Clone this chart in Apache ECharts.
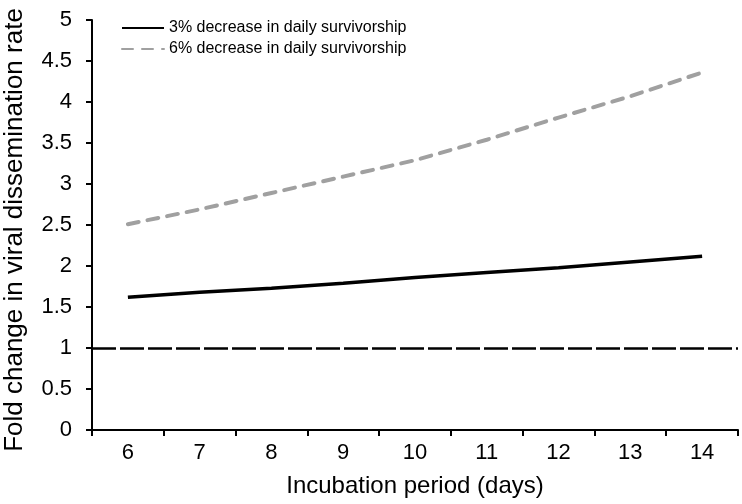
<!DOCTYPE html>
<html>
<head>
<meta charset="utf-8">
<script src="https://cdn.jsdelivr.net/npm/echarts@6/dist/echarts.min.js"></script>
<style>html,body{margin:0;padding:0;background:#fff;}#c{width:742px;height:504px;}</style>
</head>
<body>
<div id="c"></div>
<script>
const days = ['6','7','8','9','10','11','12','13','14'];
const dec3 = [1.62, 1.68, 1.73, 1.79, 1.86, 1.92, 1.98, 2.05, 2.12];
const dec6 = [2.51, 2.69, 2.89, 3.09, 3.29, 3.54, 3.81, 4.07, 4.36];
const yTicks = [0, 0.5, 1, 1.5, 2, 2.5, 3, 3.5, 4, 4.5, 5];
const baseline = 1;
const names = ['3% decrease in daily survivorship', '6% decrease in daily survivorship'];

const FONT = 'Liberation Sans, Arial, sans-serif';
const chart = echarts.init(document.getElementById('c'), null, {renderer: 'canvas'});
chart.setOption({
  animation: false,
  backgroundColor: '#fff',
  grid: {left: 92, right: 4, top: 20, bottom: 74, containLabel: false, outerBoundsMode: 'none'},
  legend: {
    left: 121, top: 20, orient: 'vertical', padding: 0,
    itemWidth: 42, itemHeight: 14, itemGap: 5,
    itemStyle: {opacity: 0},
    textStyle: {fontFamily: FONT, fontSize: 16, color: '#000'},
    data: names
  },
  xAxis: {
    type: 'category', data: days, boundaryGap: true,
    name: 'Incubation period (days)', nameLocation: 'middle', nameGap: 44,
    nameTextStyle: {fontFamily: FONT, fontSize: 24, color: '#000'},
    axisLine: {lineStyle: {color: '#000', width: 2}},
    axisTick: {show: true, inside: false, length: 6, lineStyle: {color: '#000', width: 2}},
    axisLabel: {fontFamily: FONT, fontSize: 22, color: '#000', margin: 12},
    splitLine: {show: false}
  },
  yAxis: {
    type: 'value', min: yTicks[0], max: yTicks[yTicks.length-1], interval: 0.5,
    name: 'Fold change in viral dissemination rate', nameLocation: 'middle', nameGap: 64,
    nameTextStyle: {fontFamily: FONT, fontSize: 26, color: '#000', padding: [0, 10, 0, 0]},
    axisLine: {show: true, lineStyle: {color: '#000', width: 2}},
    axisTick: {show: true, inside: false, length: 6, lineStyle: {color: '#000', width: 2}},
    axisLabel: {fontFamily: FONT, fontSize: 22, color: '#000', margin: 20},
    splitLine: {show: false}
  },
  series: [
    {
      name: names[0], type: 'line', data: dec3, symbol: 'none', smooth: false,
      lineStyle: {color: '#000', width: 3.5},
      itemStyle: {color: '#000'},
      markLine: {
        silent: true, symbol: 'none', label: {show: false},
        lineStyle: {color: '#000', width: 2.5, type: [24, 4]},
        data: [{yAxis: baseline}]
      }
    },
    {
      name: names[1], type: 'line', data: dec6, symbol: 'none', smooth: false,
      lineStyle: {color: '#a0a0a0', width: 4, type: [11, 9], cap: 'round'},
      itemStyle: {color: '#a0a0a0'}
    }
  ]
});
</script>
</body>
</html>
